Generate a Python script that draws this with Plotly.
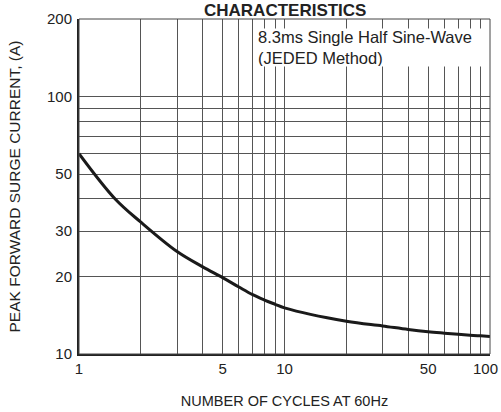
import plotly.graph_objects as go

# Data (log-log)
cycles = [1, 1.5, 2, 3, 4, 5, 6, 7, 8, 9, 10, 20, 30, 40, 50, 60, 70, 80, 90, 100]
current = [60, 40, 32.5, 25, 21.8, 19.8, 18.2, 17.0, 16.2, 15.6, 15.1,
           13.4, 12.85, 12.45, 12.2, 12.05, 11.93, 11.83, 11.76, 11.7]

x_tickvals = [1, 2, 3, 4, 5, 6, 7, 8, 9, 10, 20, 30, 40, 50, 60, 70, 80, 90, 100]
x_ticktext = ["1", "", "", "", "5", "", "", "", "", "10", "", "", "", "50", "", "", "", "", ""]
x_last_label = "100"
y_tickvals = [10, 20, 30, 40, 50, 60, 70, 80, 90, 100, 200]
y_ticktext = ["10", "20", "30", "", "50", "", "", "", "", "100", "200"]

title_text = "CHARACTERISTICS"
note_text = "8.3ms Single Half Sine-Wave<br>(JEDED Method)"
x_title = "NUMBER OF CYCLES AT 60Hz"
y_title = "PEAK FORWARD SURGE CURRENT, (A)"

TEXT_FONT = "Liberation Sans, Arial, sans-serif"
TICK_FONT = dict(family=TEXT_FONT, size=15, color="#222")

fig = go.Figure()
fig.add_trace(go.Scatter(
    x=cycles, y=current, mode="lines",
    line=dict(color="#1a1a1a", width=3, shape="spline", smoothing=1.0),
    hoverinfo="skip", showlegend=False,
))

grid_color = "#555555"
fig.update_xaxes(
    type="log", range=[0, 2], automargin=False,
    tickmode="array", tickvals=x_tickvals, ticktext=x_ticktext,
    showgrid=True, gridcolor=grid_color, gridwidth=1,
    showline=True, linecolor="#222", linewidth=2,
    ticks="", ticklabelstandoff=0, ticklabeloverflow="allow",
    tickfont=TICK_FONT, zeroline=False,
    title=dict(text=x_title, font=dict(family=TEXT_FONT, size=14.5, color="#222"), standoff=20),
)
fig.update_yaxes(
    type="log", range=[1, 2.30103], automargin=False,
    tickmode="array", tickvals=y_tickvals, ticktext=y_ticktext,
    showgrid=True, gridcolor=grid_color, gridwidth=1,
    showline=True, linecolor="#222", linewidth=2,
    ticks="", ticklabelstandoff=2, ticklabeloverflow="allow",
    tickfont=TICK_FONT, zeroline=False,
    title=dict(text=y_title, font=dict(family=TEXT_FONT, size=15.5, color="#222"), standoff=23),
)

fig.add_shape(type="rect", xref="paper", yref="paper", x0=0, y0=0, x1=1, y1=1,
              line=dict(color="#444", width=1), layer="above")

# last x tick label, nudged so it stays inside the page edge
fig.add_annotation(
    text=x_last_label, xref="paper", yref="paper", x=1, y=0,
    xanchor="right", yanchor="top", xshift=10, yshift=-4,
    showarrow=False, font=TICK_FONT,
)

fig.add_annotation(
    text=note_text, xref="paper", yref="paper",
    x=(257 - 79) / 411, y=1 - (28 - 19) / 335,
    xanchor="left", yanchor="top", align="left",
    showarrow=False, bgcolor="white", borderpad=0,
    width=228, height=37,
    font=dict(family=TEXT_FONT, size=16.5, color="#222"),
)
fig.add_annotation(
    text="<b>" + title_text + "</b>", xref="paper", yref="paper",
    x=0.5, y=1, xanchor="center", yanchor="bottom", yshift=-3,
    showarrow=False, font=dict(family=TEXT_FONT, size=17, color="#222"),
)

fig.update_layout(
    width=501, height=412,
    margin=dict(l=79, r=11, t=19, b=58),
    paper_bgcolor="white", plot_bgcolor="white",
    showlegend=False,
)

# remove the browser's default 8px body margin so the figure sits at the page origin
fig.write_html(
    "out.html",
    config={"displayModeBar": False, "staticPlot": True},
    post_script="document.body.style.margin='0';document.body.style.overflow='hidden';",
)
